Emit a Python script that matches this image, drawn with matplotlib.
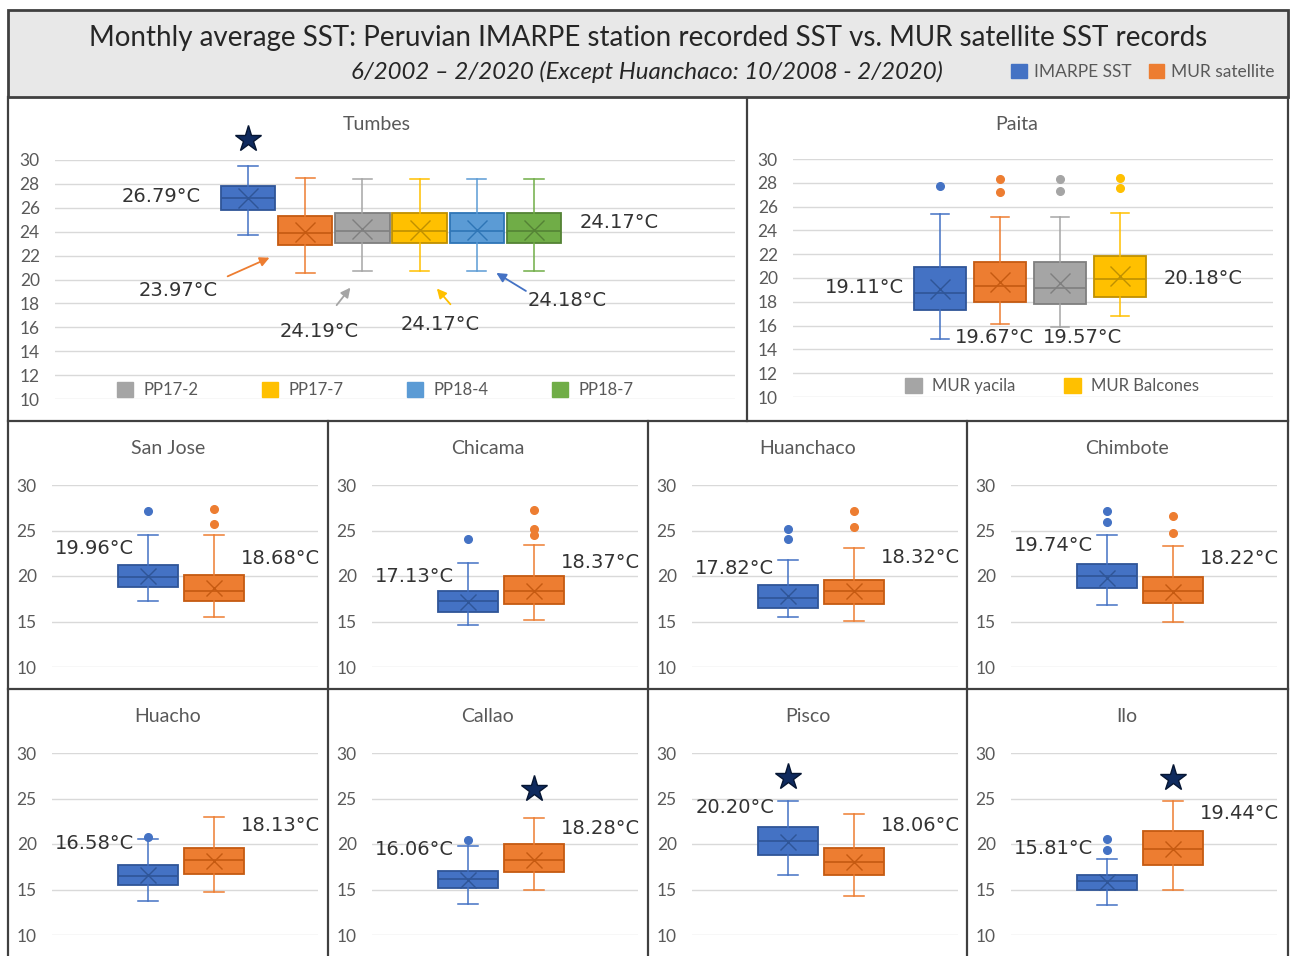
"""Monthly average SST box plots: IMARPE stations vs MUR satellite."""
import matplotlib
matplotlib.use("Agg")
import matplotlib.pyplot as plt
from matplotlib.lines import Line2D
from matplotlib.patches import Patch, Rectangle

W, H = 1296, 956
FONT = "Lato"
GREY_TXT = "#595959"
LAB_TXT = "#333333"
FRAME = "#404040"
STAR = "#0f2a5e"

# ---- data -----------------------------------------------------------------
tumbes_series = ["IMARPE SST", "MUR satellite", "PP17-2", "PP17-7", "PP18-4", "PP18-7"]
tumbes_lo = [23.75, 20.56, 20.67, 20.67, 20.67, 20.67]
tumbes_q1 = [25.83, 22.86, 23.06, 23.06, 23.06, 23.06]
tumbes_med = [26.86, 23.89, 24.1, 24.1, 24.1, 24.1]
tumbes_q3 = [27.86, 25.33, 25.55, 25.55, 25.55, 25.55]
tumbes_hi = [29.5, 28.53, 28.4, 28.4, 28.4, 28.4]
tumbes_mean = [26.79, 23.97, 24.19, 24.17, 24.18, 24.17]

paita_series = ["IMARPE SST", "MUR satellite", "MUR yacila", "MUR Balcones"]
paita_lo = [14.85, 16.1, 15.9, 16.83]
paita_q1 = [17.3, 17.96, 17.8, 18.43]
paita_med = [18.7, 19.35, 19.2, 19.9]
paita_q3 = [20.95, 21.37, 21.37, 21.87]
paita_hi = [25.38, 25.15, 25.15, 25.5]
paita_mean = [19.11, 19.67, 19.57, 20.18]
paita_out = [[27.76], [27.25, 28.3], [27.3, 28.3], [27.6, 28.38]]

stations = ["San Jose", "Chicama", "Huanchaco", "Chimbote",
            "Huacho", "Callao", "Pisco", "Ilo"]
imarpe_lo = [17.2, 14.6, 15.45, 16.8, 13.7, 13.45, 16.56, 13.26]
imarpe_q1 = [18.8, 16.0, 16.45, 18.65, 15.53, 15.16, 18.82, 14.98]
imarpe_med = [19.9, 17.2, 17.55, 20.0, 16.45, 16.1, 20.3, 15.96]
imarpe_q3 = [21.2, 18.3, 19.0, 21.3, 17.66, 17.07, 21.87, 16.6]
imarpe_hi = [24.5, 21.45, 21.8, 24.5, 20.5, 19.75, 24.76, 18.35]
imarpe_mean = [19.96, 17.13, 17.82, 19.74, 16.58, 16.06, 20.20, 15.81]
imarpe_out = [[27.1], [24.1], [24.05, 25.2], [25.9, 27.1], [20.8], [20.4], [], [19.3, 20.6]]
mur_lo = [15.5, 15.2, 15.05, 14.9, 14.7, 14.98, 14.25, 14.9]
mur_q1 = [17.2, 16.9, 16.9, 17.0, 16.7, 16.9, 16.56, 17.66]
mur_med = [18.3, 18.3, 18.3, 18.4, 18.2, 18.2, 18.0, 19.45]
mur_q3 = [20.1, 20.0, 19.6, 19.85, 19.6, 20.0, 19.56, 21.4]
mur_hi = [24.5, 23.4, 23.1, 23.3, 23.0, 22.85, 23.3, 24.76]
mur_mean = [18.68, 18.37, 18.32, 18.22, 18.13, 18.28, 18.06, 19.44]
mur_out = [[25.7, 27.4], [24.5, 25.2, 27.2], [25.4, 27.1], [24.7, 26.6], [], [], [], []]

# stars: panel -> (series index, y)
stars = {"Tumbes": (0, 31.75), "Callao": (1, 26.0), "Pisco": (0, 27.4), "Ilo": (1, 27.3)}

# ---- layout / style --------------------------------------------------------
COLORS = ["#4472C4", "#ED7D31", "#A5A5A5", "#FFC000", "#5B9BD5", "#70AD47"]
DARKS = ["#2F5597", "#C55A11", "#7F7F7F", "#BF9000", "#2E75B6", "#548235"]

imarpe_lab_y = [22.97, 19.9, 20.77, 23.3, 20.1, 19.45, 23.96, 19.56]
mur_lab_y = [21.9, 21.5, 22.0, 21.87, 21.98, 21.65, 21.98, 23.4]

plt.rcParams["font.family"] = [FONT, "DejaVu Sans"]


def rect(x0, y0, x1, y1):
    return [x0 / W, 1 - y1 / H, (x1 - x0) / W, (y1 - y0) / H]


def fline(x0, y0, x1, y1, lw=1.6):
    fig.add_artist(Line2D([x0 / W, x1 / W], [1 - y0 / H, 1 - y1 / H],
                          transform=fig.transFigure, color=FRAME, lw=lw))


def style_axes(ax, step):
    ax.set_ylim(10, 30)
    ax.set_yticks(range(10, 31, step))
    ax.grid(axis="y", color="#d9d9d9", lw=1)
    ax.set_axisbelow(True)
    ax.set_xticks([])
    for s in ax.spines.values():
        s.set_visible(False)
    ax.tick_params(axis="y", length=0, pad=11, labelsize=12.5, labelcolor=GREY_TXT)
    ax.patch.set_alpha(0)


def box(ax, pos, width, lo, q1, med, q3, hi, mean, out, c, d, ms=12):
    st = dict(whislo=lo, q1=q1, med=med, q3=q3, whishi=hi, mean=mean, fliers=out)
    ax.bxp([st], positions=[pos], widths=width, patch_artist=True, showmeans=True,
           manage_ticks=False, capwidths=width * 0.35,
           boxprops=dict(facecolor=c, edgecolor=d, lw=1.3),
           medianprops=dict(color=d, lw=1.2),
           meanprops=dict(marker="x", markeredgecolor=d, markersize=ms, mew=1.0),
           whiskerprops=dict(color=c, lw=1.1),
           capprops=dict(color=c, lw=1.1),
           flierprops=dict(marker="o", markerfacecolor=c, markeredgecolor=c,
                           markersize=5.5))


def star(ax, x, y):
    ax.plot([x], [y], marker="*", ms=20, color=STAR, mec="#061633", clip_on=False)


def lab(ax, x, y, txt, ha):
    ax.text(x, y, txt, ha=ha, va="center", fontsize=14, color=LAB_TXT,
            family="DejaVu Sans")


fig = plt.figure(figsize=(W / 100, H / 100), dpi=100)

# title box
fig.add_artist(Rectangle((8 / W, 1 - 97 / H), 1280 / W, 87 / H, transform=fig.transFigure,
                         facecolor="#e8e8e8", edgecolor=FRAME, lw=2))
fig.text(648 / W, 1 - 38 / H,
         "Monthly average SST: Peruvian IMARPE station recorded SST vs. MUR satellite SST records",
         ha="center", va="center", fontsize=20, color="#262626")
fig.text(647 / W, 1 - 72 / H, "6/2002 \u2013 2/2020 (Except Huanchaco: 10/2008 - 2/2020)",
         ha="center", va="center", fontsize=17.3, style="italic", color="#262626")
fig.legend(handles=[Patch(color=COLORS[0]), Patch(color=COLORS[1])],
           labels=["IMARPE SST", "MUR satellite"], loc="center",
           bbox_to_anchor=(1143 / W, 1 - 72 / H), ncol=2, frameon=False, fontsize=12.5,
           handlelength=0.9, handleheight=0.9, handletextpad=0.4, columnspacing=1.0,
           labelcolor=GREY_TXT)

# frames
for x in (8, 1288):
    fline(x, 97, x, 956)
fline(747, 98, 747, 421)
for y in (421, 689):
    fline(8, y, 1288, y)
for x in (328, 648, 967):
    fline(x, 421, x, 956)

# ---- Tumbes ----------------------------------------------------------------
ax = fig.add_axes(rect(55, 160, 735, 399))
style_axes(ax, 2)
ax.set_xlim(1 - 193 / 57.2, 6 + 201 / 57.2)
for i in range(len(tumbes_series)):
    box(ax, i + 1, 0.95, tumbes_lo[i], tumbes_q1[i], tumbes_med[i], tumbes_q3[i],
        tumbes_hi[i], tumbes_mean[i], [], COLORS[i], DARKS[i], ms=14)
fig.text(377 / W, 1 - 125 / H, "Tumbes", ha="center", va="center", fontsize=14, color=GREY_TXT)
star(ax, 1, stars["Tumbes"][1])
lab(ax, 0.18, 26.92, f"{tumbes_mean[0]:.2f}\u00b0C", "right")
lab(ax, 6.80, 24.75, f"{tumbes_mean[5]:.2f}\u00b0C", "left")
# labels with arrows: (series, text x, text y, tail, head, colour)
arrow_specs = [(1, -0.22, 19.08, (0.60, 20.17), (1.42, 21.92), COLORS[1]),
               (2, 2.24, 15.67, (2.52, 17.67), (2.82, 19.5), COLORS[2]),
               (3, 4.36, 16.25, (4.57, 17.75), (4.27, 19.42), COLORS[3]),
               (4, 6.58, 18.25, (5.90, 18.92), (5.30, 20.67), COLORS[0])]
for i, tx, ty, tail, head, c in arrow_specs:
    lab(ax, tx, ty, f"{tumbes_mean[i]:.2f}\u00b0C", "center")
    ax.annotate("", xy=head, xytext=tail,
                arrowprops=dict(arrowstyle="-|>", color=c, lw=1.3, mutation_scale=14))
ax.legend(handles=[Patch(color=COLORS[i]) for i in range(2, 6)], labels=tumbes_series[2:],
          loc="center", bbox_to_anchor=(375 / W, 1 - 390 / H), bbox_transform=fig.transFigure,
          ncol=4, frameon=False, fontsize=12, handlelength=1.0, handleheight=1.0,
          handletextpad=0.6, columnspacing=3.8, labelcolor=GREY_TXT)

# ---- Paita -----------------------------------------------------------------
ax = fig.add_axes(rect(793, 159, 1273, 397))
style_axes(ax, 2)
ax.set_xlim(1 - 147 / 60, 4 + 153 / 60)
for i in range(len(paita_series)):
    box(ax, i + 1, 0.88, paita_lo[i], paita_q1[i], paita_med[i], paita_q3[i],
        paita_hi[i], paita_mean[i], paita_out[i], COLORS[i], DARKS[i], ms=14)
fig.text(1017 / W, 1 - 124 / H, "Paita", ha="center", va="center", fontsize=14, color=GREY_TXT)
lab(ax, 0.40, 19.16, f"{paita_mean[0]:.2f}\u00b0C", "right")
lab(ax, 1.90, 14.96, f"{paita_mean[1]:.2f}\u00b0C", "center")
lab(ax, 3.38, 14.96, f"{paita_mean[2]:.2f}\u00b0C", "center")
lab(ax, 4.72, 20.0, f"{paita_mean[3]:.2f}\u00b0C", "left")
ax.legend(handles=[Patch(color=COLORS[2]), Patch(color=COLORS[3])], labels=paita_series[2:],
          loc="center", bbox_to_anchor=(1052 / W, 1 - 386 / H), bbox_transform=fig.transFigure,
          ncol=2, frameon=False, fontsize=12, handlelength=1.0, handleheight=1.0,
          handletextpad=0.6, columnspacing=2.9, labelcolor=GREY_TXT)

# ---- small station panels --------------------------------------------------
frame_left = [8, 328, 648, 967]
for k, name in enumerate(stations):
    fx = frame_left[k % 4]
    top = 485 if k < 4 else 753
    ax = fig.add_axes(rect(fx + 44, top, fx + 310, top + 182))
    style_axes(ax, 5)
    ax.set_xlim(1 - 96 / 66, 2 + 104 / 66)
    box(ax, 1, 0.9, imarpe_lo[k], imarpe_q1[k], imarpe_med[k], imarpe_q3[k],
        imarpe_hi[k], imarpe_mean[k], imarpe_out[k], COLORS[0], DARKS[0])
    box(ax, 2, 0.9, mur_lo[k], mur_q1[k], mur_med[k], mur_q3[k],
        mur_hi[k], mur_mean[k], mur_out[k], COLORS[1], DARKS[1])
    fig.text((fx + 160) / W, 1 - (top - 36) / H, name, ha="center", va="center",
             fontsize=14, color=GREY_TXT)
    lab(ax, 0.79, imarpe_lab_y[k], f"{imarpe_mean[k]:.2f}\u00b0C", "right")
    lab(ax, 2.40, mur_lab_y[k], f"{mur_mean[k]:.2f}\u00b0C", "left")
    if name in stars:
        s, y = stars[name]
        star(ax, s + 1, y)

fig.savefig("out.png", dpi=100)
